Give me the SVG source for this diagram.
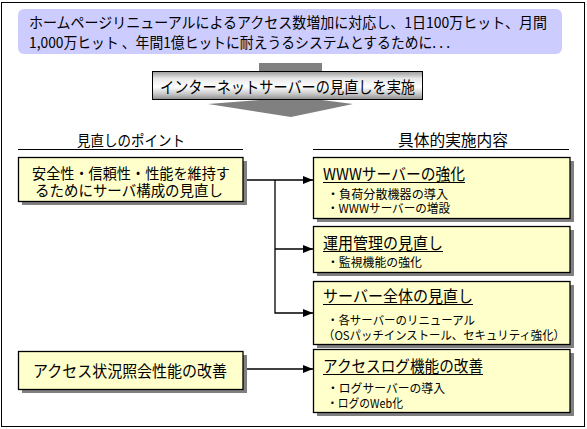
<svg xmlns="http://www.w3.org/2000/svg" width="587" height="429" viewBox="0 0 587 429">
<style>
  text { font-family: "Noto Sans CJK JP", "Noto Sans", sans-serif; fill: #000; }
  .box { fill: #FFFFCC; stroke: #000; stroke-width: 1.3; }
  .shadow { fill: #808080; }
  .conn { stroke: #000; stroke-width: 1.3; fill: none; }
  .hdr { stroke: #000; stroke-width: 1.2; }
  .t15 { font-size: 15px; }
  .t16 { font-size: 16px; }
  .b12 { font-size: 12px; }
  .ul { stroke: #000; stroke-width: 1; }
</style>
<defs>
  <linearGradient id="band" x1="0" y1="0" x2="0" y2="1">
    <stop offset="0" stop-color="#9a9a9a"/>
    <stop offset="0.25" stop-color="#e8e8e8"/>
    <stop offset="0.55" stop-color="#ffffff"/>
    <stop offset="0.8" stop-color="#c8c8c8"/>
    <stop offset="1" stop-color="#8c8c8c"/>
  </linearGradient>
  <marker id="arr" viewBox="0 0 10 8" refX="10" refY="4" markerWidth="10" markerHeight="8" markerUnits="userSpaceOnUse" orient="auto">
    <path d="M0,0 L10,4 L0,8 Z" fill="#000"/>
  </marker>
</defs>

<rect x="1.5" y="2.5" width="583" height="424" fill="#fff" stroke="#000" stroke-width="1"/>

<g id="intro">
  <rect x="18" y="9" width="544" height="45" rx="6" fill="#CCCCFF"/>
  <text class="t15" x="29" y="28" textLength="518" lengthAdjust="spacingAndGlyphs">ホームページリニューアルによるアクセス数増加に対応し、1日100万ヒット、月間</text>
  <text class="t15" x="29" y="48" textLength="421" lengthAdjust="spacingAndGlyphs">1,000万ヒット 、年間1億ヒットに耐えうるシステムとするために. . .</text>
</g>

<g id="main-arrow">
  <polygon points="259,63 322,63 322,100 353,104 291,117 208,104 259,100" fill="#808080"/>
  <rect x="152.5" y="71.5" width="270" height="28" fill="url(#band)" stroke="#000" stroke-width="1"/>
  <text class="t16" x="160" y="93" textLength="255" lengthAdjust="spacingAndGlyphs">インターネットサーバーの見直しを実施</text>
</g>

<g id="headers">
  <text class="t15" x="77" y="146" textLength="108" lengthAdjust="spacingAndGlyphs">見直しのポイント</text>
  <line class="hdr" x1="18" y1="149.5" x2="243" y2="149.5"/>
  <text class="t16" x="398" y="146" textLength="110" lengthAdjust="spacingAndGlyphs">具体的実施内容</text>
  <line class="hdr" x1="313" y1="149.5" x2="569" y2="149.5"/>
</g>

<g id="connectors">
  <line class="conn" x1="243" y1="180" x2="313" y2="180" marker-end="url(#arr)"/>
  <polyline class="conn" points="275,180 275,313 313,313" marker-end="url(#arr)"/>
  <line class="conn" x1="275" y1="249" x2="313" y2="249" marker-end="url(#arr)"/>
  <line class="conn" x1="243" y1="369" x2="313" y2="369" marker-end="url(#arr)"/>
</g>

<g id="point-1">
  <rect class="shadow" x="22" y="161" width="225" height="44"/>
  <rect class="box" x="18.5" y="157.5" width="224.5" height="44"/>
  <text class="t15" x="32" y="179" textLength="198" lengthAdjust="spacingAndGlyphs">安全性・信頼性・性能を維持す</text>
  <text class="t15" x="35" y="196" textLength="188" lengthAdjust="spacingAndGlyphs">るためにサーバ構成の見直し</text>
</g>

<g id="point-2">
  <rect class="shadow" x="22" y="355" width="225" height="38"/>
  <rect class="box" x="18.5" y="351.5" width="224.5" height="38"/>
  <text class="t16" x="33" y="377" textLength="194" lengthAdjust="spacingAndGlyphs">アクセス状況照会性能の改善</text>
</g>

<g id="action-1">
  <rect class="shadow" x="317" y="161" width="257" height="61"/>
  <rect class="box" x="313.5" y="157.5" width="256.5" height="61"/>
  <text class="t16" x="323" y="180" textLength="142" lengthAdjust="spacingAndGlyphs">WWWサーバーの強化</text>
  <line class="ul" x1="323" y1="182.5" x2="465" y2="182.5"/>
  <text class="b12" x="327" y="199" textLength="121" lengthAdjust="spacingAndGlyphs">・負荷分散機器の導入</text>
  <text class="b12" x="327" y="213" textLength="123" lengthAdjust="spacingAndGlyphs">・WWWサーバーの増設</text>
</g>

<g id="action-2">
  <rect class="shadow" x="317" y="230" width="257" height="46"/>
  <rect class="box" x="313.5" y="226.5" width="256.5" height="46"/>
  <text class="t16" x="323" y="249" textLength="120" lengthAdjust="spacingAndGlyphs">運用管理の見直し</text>
  <line class="ul" x1="323" y1="251.5" x2="443" y2="251.5"/>
  <text class="b12" x="327" y="267" textLength="95" lengthAdjust="spacingAndGlyphs">・監視機能の強化</text>
</g>

<g id="action-3">
  <rect class="shadow" x="317" y="285" width="257" height="63"/>
  <rect class="box" x="313.5" y="281.5" width="256.5" height="63"/>
  <text class="t16" x="323" y="302" textLength="150" lengthAdjust="spacingAndGlyphs">サーバー全体の見直し</text>
  <line class="ul" x1="323" y1="304.5" x2="473" y2="304.5"/>
  <text class="b12" x="327" y="325" textLength="148" lengthAdjust="spacingAndGlyphs">・各サーバーのリニューアル</text>
  <text class="b12" x="323" y="340" textLength="242" lengthAdjust="spacingAndGlyphs">（OSパッチインストール、セキュリティ強化）</text>
</g>

<g id="action-4">
  <rect class="shadow" x="317" y="353" width="257" height="63"/>
  <rect class="box" x="313.5" y="349.5" width="256.5" height="63"/>
  <text class="t16" x="323" y="372" textLength="160" lengthAdjust="spacingAndGlyphs">アクセスログ機能の改善</text>
  <line class="ul" x1="323" y1="374.5" x2="483" y2="374.5"/>
  <text class="b12" x="327" y="393" textLength="118" lengthAdjust="spacingAndGlyphs">・ログサーバーの導入</text>
  <text class="b12" x="327" y="408" textLength="76" lengthAdjust="spacingAndGlyphs">・ログのWeb化</text>
</g>
</svg>
